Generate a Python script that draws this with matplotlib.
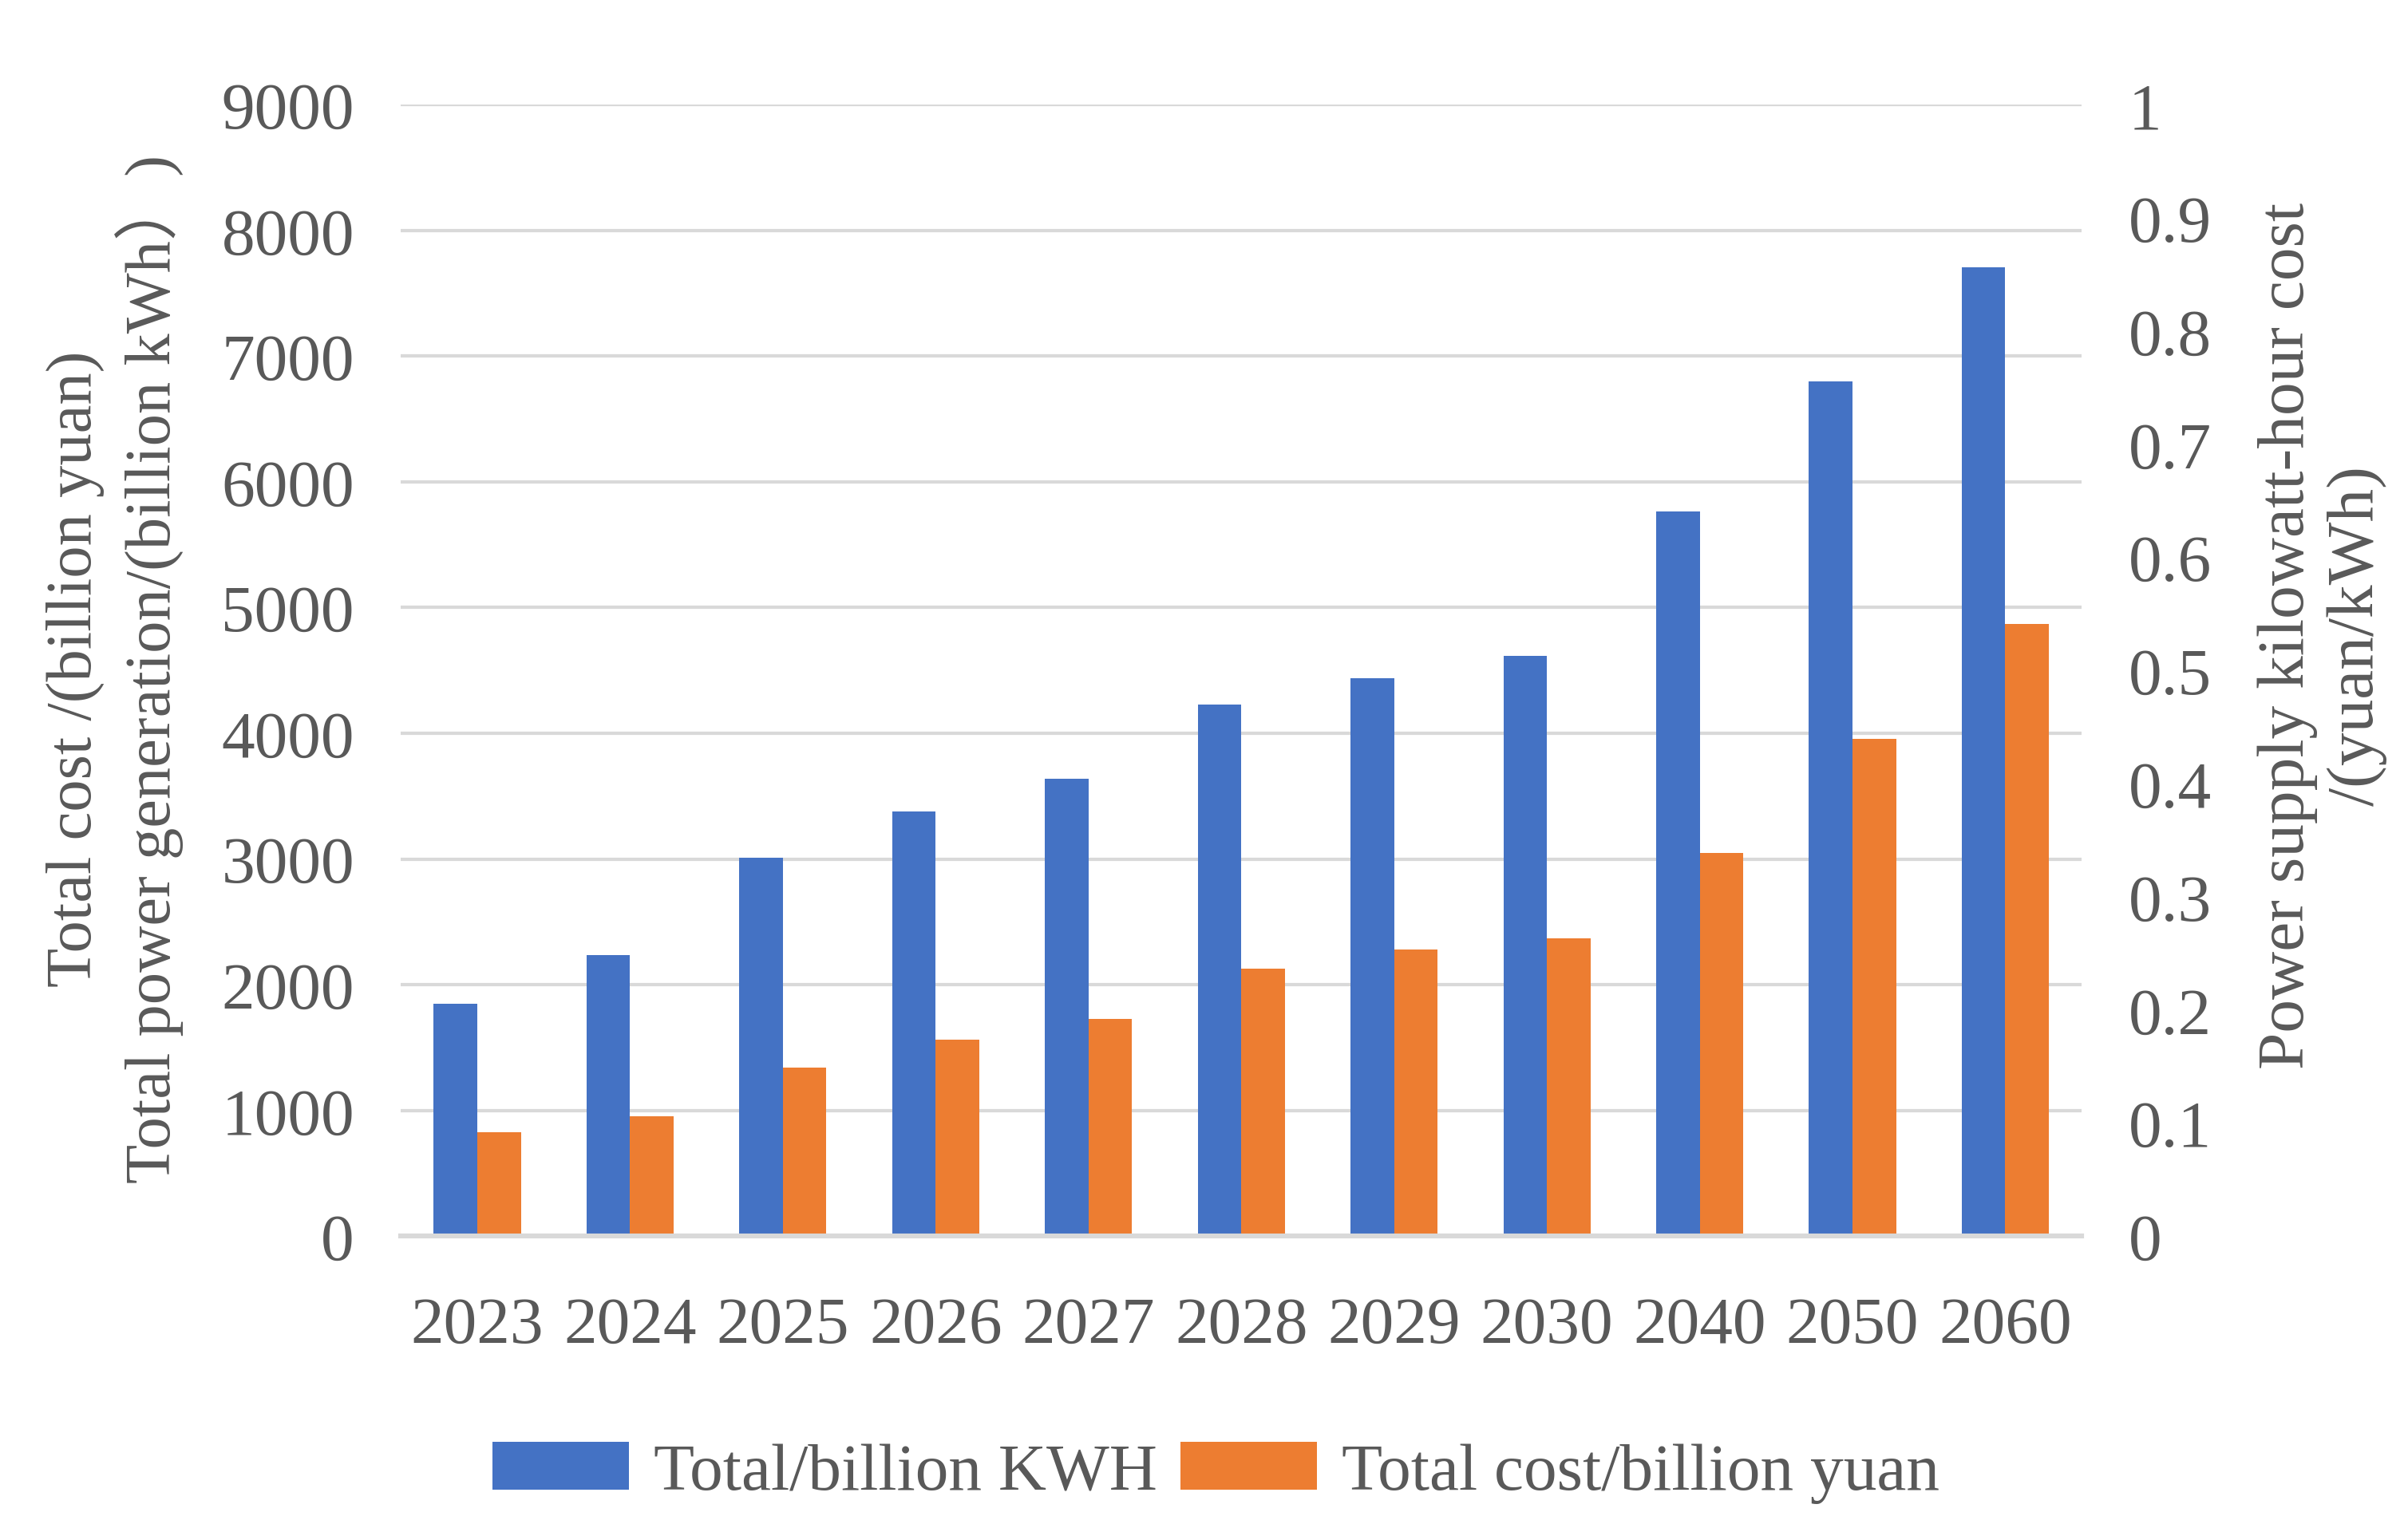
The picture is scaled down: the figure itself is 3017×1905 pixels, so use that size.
import matplotlib.pyplot as plt
import numpy as np

# -----------------------------
# data
# -----------------------------
years = ["2023", "2024", "2025", "2026", "2027", "2028", "2029", "2030", "2040", "2050", "2060"]
total_kwh = [1850, 2235, 3010, 3375, 3635, 4230, 4440, 4615, 5765, 6800, 7710]
total_cost = [825, 950, 1340, 1565, 1730, 2130, 2280, 2370, 3050, 3955, 4870]
left_ticks = [0, 1000, 2000, 3000, 4000, 5000, 6000, 7000, 8000, 9000]
right_ticks = [0, 0.1, 0.2, 0.3, 0.4, 0.5, 0.6, 0.7, 0.8, 0.9, 1]
right_labels = ["0", "0.1", "0.2", "0.3", "0.4", "0.5", "0.6", "0.7", "0.8", "0.9", "1"]

blue = "#4472C4"
orange = "#ED7D31"
grey = "#595959"
grid = "#D9D9D9"

plt.rcParams["font.family"] = ["Liberation Serif", "Noto Sans CJK SC", "DejaVu Sans"]

fig = plt.figure(figsize=(15.085, 9.53), dpi=200)
ax = fig.add_axes([0.1665, 0.1867, 0.698, 0.7439])

x = np.arange(len(years))
w = 0.285
ax.bar(x - w / 2, total_kwh, w, color=blue, label="Total/billion KWH", zorder=3)
ax.bar(x + w / 2, total_cost, w, color=orange, label="Total cost/billion yuan", zorder=3)

ax.set_xlim(-0.5, len(years) - 0.5)
ax.set_ylim(0, 9000)
ax.set_yticks(left_ticks)
ax.set_xticks(x)
ax.set_xticklabels(years)
ax.grid(axis="y", color=grid, linewidth=1.5, zorder=0)
for s in ["top", "left", "right"]:
    ax.spines[s].set_visible(False)
ax.spines["bottom"].set_color(grid)
ax.spines["bottom"].set_linewidth(2.2)
ax.spines["bottom"].set_zorder(4)
ax.tick_params(axis="y", length=0, pad=21, labelsize=30, labelcolor=grey)
ax.tick_params(axis="x", length=0, pad=27, labelsize=30, labelcolor=grey)

# --- right axis (kWh cost scale) ---
ax2 = ax.twinx()
ax2.set_ylim(0, 1)
ax2.set_yticks(right_ticks)
ax2.set_yticklabels(right_labels)
for s in ax2.spines.values():
    s.set_visible(False)
ax2.tick_params(axis="y", length=0, pad=21, labelsize=30, labelcolor=grey)

# --- axis titles ---
fig.text(0.048, 0.56, "Total cost /(billion yuan)\nTotal power generation/(billion kWh\uff09)",
         rotation=90, ha="center", va="center", multialignment="center",
         fontsize=29, color=grey)
fig.text(0.9645, 0.582, "Power supply kilowatt-hour cost\n/(yuan/kWh)",
         rotation=90, ha="center", va="center", multialignment="center",
         fontsize=30, color=grey)

# --- legend ---
fig.legend(loc="center", bbox_to_anchor=(0.505, 0.031), ncol=2, frameon=False,
           fontsize=30, labelcolor=grey, handlelength=2.05, handleheight=0.72,
           handletextpad=0.37, columnspacing=0.35)

fig.savefig("out.png", dpi=200)
